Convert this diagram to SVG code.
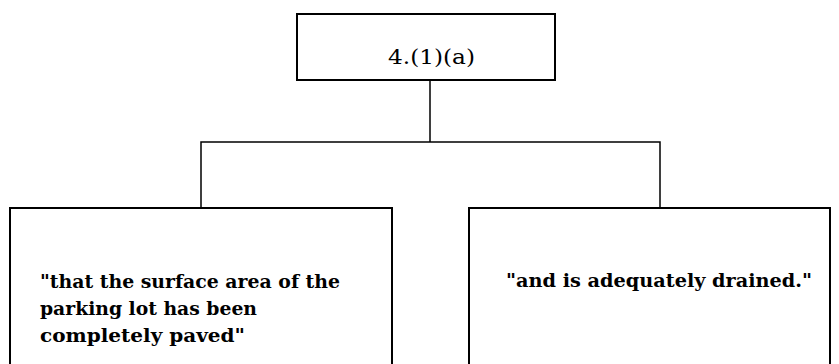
<svg xmlns="http://www.w3.org/2000/svg" width="839" height="364" viewBox="0 0 839 364">
<style>
.box{fill:#fff;stroke:#000;stroke-width:2}
.ln{fill:none;stroke:#000;stroke-width:1.5}
.t{font-family:"DejaVu Serif","Liberation Serif",serif;font-weight:bold;font-size:18px;fill:#000}
.h{font-family:"DejaVu Serif","Liberation Serif",serif;font-size:21px;fill:#000}
</style>
<rect width="839" height="364" fill="#fff"/>
<g id="connectors">
<path class="ln" d="M430 80 V142 M201 208 V142 H660 V208"/>
</g>
<g id="root">
<rect class="box" x="297" y="14" width="258" height="66"/>
<text class="h" x="388" y="64" textLength="87" lengthAdjust="spacingAndGlyphs">4.(1)(a)</text>
</g>
<g id="left">
<rect class="box" x="10" y="208" width="382" height="170"/>
<text class="t" x="40" y="288" textLength="300" lengthAdjust="spacingAndGlyphs">"that the surface area of the</text>
<text class="t" x="40" y="315" textLength="217" lengthAdjust="spacingAndGlyphs">parking lot has been</text>
<text class="t" x="40" y="342" textLength="205" lengthAdjust="spacingAndGlyphs">completely paved"</text>
</g>
<g id="right">
<rect class="box" x="469" y="208" width="361" height="170"/>
<text class="t" x="506" y="287" textLength="306" lengthAdjust="spacingAndGlyphs">"and is adequately drained."</text>
</g>
</svg>
